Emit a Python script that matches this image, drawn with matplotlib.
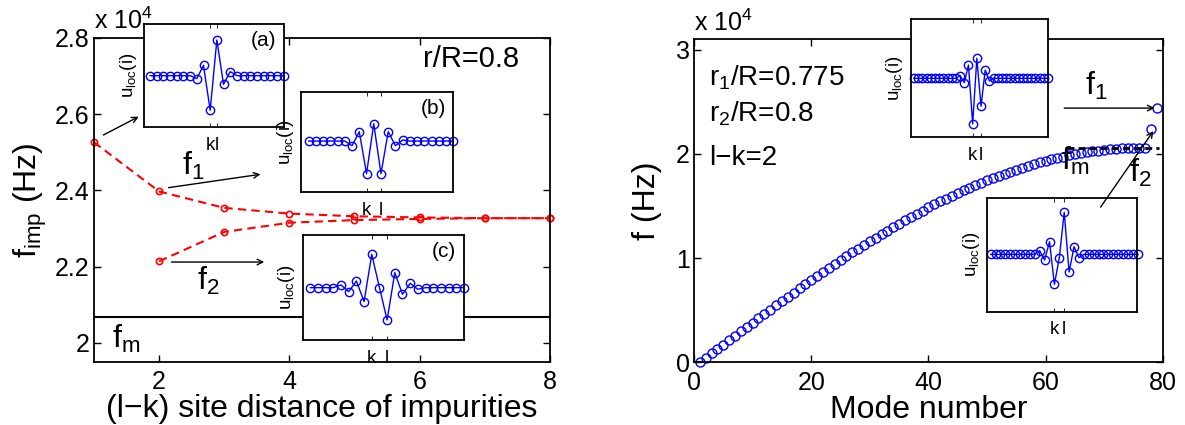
import numpy as np
import matplotlib
matplotlib.use('Agg')
import matplotlib.pyplot as plt
from matplotlib.patches import ConnectionPatch

plt.rcParams['font.family'] = ['Liberation Sans', 'DejaVu Sans']
plt.rcParams['mathtext.fontset'] = 'custom'
plt.rcParams['mathtext.rm'] = 'Liberation Sans'
plt.rcParams['mathtext.it'] = 'Liberation Sans'
plt.rcParams['mathtext.default'] = 'regular'

# ---- left panel: impurity frequencies (x 1e4 Hz) vs site distance
dist_f1 = [1, 2, 3, 4, 5, 6, 7, 8]
f1_imp = [2.526, 2.397, 2.354, 2.339, 2.332, 2.329, 2.327, 2.327]
dist_f2 = [2, 3, 4, 5, 6, 7, 8]
f2_imp = [2.214, 2.291, 2.315, 2.322, 2.325, 2.327, 2.327]
f_max = 2.068

# ---- right panel: spectrum (x 1e4 Hz) vs mode number
mode_f = [0.000, 0.043, 0.085, 0.128, 0.170, 0.213, 0.255, 0.297, 0.339, 0.381,
          0.423, 0.464, 0.506, 0.547, 0.588, 0.628, 0.669, 0.709, 0.749, 0.788,
          0.828, 0.866, 0.905, 0.943, 0.980, 1.018, 1.055, 1.091, 1.127, 1.162,
          1.197, 1.231, 1.265, 1.299, 1.331, 1.364, 1.395, 1.426, 1.457, 1.486,
          1.516, 1.544, 1.572, 1.599, 1.625, 1.651, 1.676, 1.700, 1.724, 1.746,
          1.768, 1.789, 1.810, 1.829, 1.848, 1.866, 1.883, 1.903, 1.919, 1.934,
          1.948, 1.962, 1.974, 1.986, 1.997, 2.007, 2.016, 2.025, 2.032, 2.039,
          2.044, 2.049, 2.053, 2.056, 2.058, 2.060, 2.060, 2.243, 2.440]
f_max_r = 2.058

# ---- mode shapes shown in the insets (arbitrary units)
u_a = [0, 0, 0, 0, 0, 0, 0, -9, 31, -104, 107, -26, 12, 0, 0, 0, 0, 0, 0, 0, 0]
u_b = [0, 0, 0, 0, 0, 0, -14, 28, -98, 52, -98, 28, -14, 3, 0, 0, 0, 0, 0, 0, 0]
u_c = [0, 0, 0, 0, 8, -12, 20, -42, 100, 0, -97, 45, -20, 13, -5, 0, 0, 0, 0, 0, 0]
u_r1 = [0] * 11 + [8, -13, 40, -137, 60, -84, 25, -8] + [0] * 14
u_r2 = [0] * 10 + [11, -17, 38, -90, -10, 126, -53, 23, -10] + [0] * 12

BLUE = '#0000ff'
TICK = 18
LAB = 23

fig = plt.figure(figsize=(11.85, 4.25), dpi=100)


def style_main(ax):
    ax.tick_params(direction='in', top=True, right=True, length=5, width=1,
                   labelsize=TICK)
    ax.tick_params(axis='x', pad=6)
    ax.tick_params(axis='y', pad=3)
    for s in ax.spines.values():
        s.set_linewidth(1.3)


def inset(rect, u, k, l, xlim, ylim, tag=None):
    ax = fig.add_axes(rect)
    idx = np.arange(1, len(u) + 1)
    ax.plot(idx, u, '-o', color=BLUE, mfc='none', ms=6, lw=1, mew=1,
            clip_on=False)
    ax.set_xlim(xlim)
    ax.set_ylim(ylim)
    ax.set_xticks([k, l])
    ax.set_xticklabels(['k', 'l'], fontsize=13.5)
    ax.set_yticks([])
    ax.tick_params(axis='x', direction='in', top=True, length=3, width=0.6,
                   pad=7)
    ax.set_ylabel('u$_{loc}$(i)', fontsize=13.5, labelpad=4)
    if tag:
        ax.text(0.95, 0.93, tag, transform=ax.transAxes, ha='right',
                va='top', fontsize=15)
    for s in ax.spines.values():
        s.set_linewidth(1.3)
    return ax


# ================= left panel =================
ax1 = fig.add_axes([0.0793, 0.1482, 0.3846, 0.7631])
ax1.axhline(f_max, color='k', lw=1.5)
ax1.plot(dist_f1, f1_imp, '--o', color='#ff0000', ms=4.5, mfc='none',
         lw=1.5, mew=1.2, dashes=(4, 2.5), clip_on=False)
ax1.plot(dist_f2, f2_imp, '--o', color='#ff0000', ms=4.5, mfc='none',
         lw=1.5, mew=1.2, dashes=(4, 2.5), clip_on=False)
ax1.set_xlim(1, 8)
ax1.set_ylim(1.95, 2.8)
ax1.set_xticks([2, 4, 6, 8])
ax1.set_yticks([2, 2.2, 2.4, 2.6, 2.8])
ax1.set_yticklabels(['2', '2.2', '2.4', '2.6', '2.8'])
style_main(ax1)
ax1.set_xlabel('(l\u2212k) site distance of impurities', fontsize=LAB,
               labelpad=0)
ax1.set_ylabel('f$_{imp}$ (Hz)', fontsize=LAB, labelpad=4)
ax1.text(0.0, 1.01, 'x 10$^4$', transform=ax1.transAxes, fontsize=TICK,
         ha='left', va='bottom')
ax1.text(6.06, 2.724, 'r/R=0.8', fontsize=21, ha='left', va='baseline')
ax1.text(2.35, 2.44, 'f$_1$', fontsize=LAB, ha='left', va='baseline')
ax1.text(2.58, 2.14, 'f$_2$', fontsize=LAB, ha='left', va='baseline')
ax1.text(1.28, 1.988, 'f$_m$', fontsize=LAB, ha='left', va='baseline')
arrow = dict(arrowstyle='->', color='k', lw=1, shrinkA=0, shrinkB=0)
ax1.annotate('', xy=(1.687, 2.593), xytext=(1.145, 2.545),
             arrowprops=arrow)
ax1.annotate('', xy=(3.558, 2.442), xytext=(2.146, 2.407),
             arrowprops=arrow)
ax1.annotate('', xy=(3.615, 2.212), xytext=(2.19, 2.212),
             arrowprops=arrow)

inset([0.1219, 0.7012, 0.1174, 0.2424], u_a, 10, 11, (0.15, 21),
      (-154, 155), '(a)')
inset([0.2544, 0.5482, 0.1281, 0.2360], u_b, 9, 11, (0, 21),
      (-153, 148), '(b)')
inset([0.2554, 0.2000, 0.1361, 0.2471], u_c, 9, 11, (0, 21),
      (-157, 158), '(c)')

# ================= right panel =================
ax2 = fig.add_axes([0.5857, 0.1475, 0.3955, 0.7600])
modes = np.arange(1, len(mode_f) + 1)
ax2.plot(modes, mode_f, 'o', color=BLUE, mfc='none', ms=6.5, mew=1,
         clip_on=False)
ax2.plot([63.6, 79.3], [f_max_r, f_max_r], color='k', lw=2,
         dashes=(2.5, 1.5))
ax2.set_xlim(0, 80)
ax2.set_ylim(0, 3.1)
ax2.set_xticks([0, 20, 40, 60, 80])
ax2.set_yticks([0, 1, 2, 3])
style_main(ax2)
ax2.set_xlabel('Mode number', fontsize=LAB, labelpad=0)
ax2.set_ylabel('f (Hz)', fontsize=LAB, labelpad=10)
ax2.text(0.0, 1.01, 'x 10$^4$', transform=ax2.transAxes, fontsize=TICK,
         ha='left', va='bottom')
ax2.text(2.5, 2.658, 'r$_1$/R=0.775', fontsize=20, ha='left', va='baseline')
ax2.text(2.5, 2.307, 'r$_2$/R=0.8', fontsize=20, ha='left', va='baseline')
ax2.text(2.5, 1.892, 'l\u2212k=2', fontsize=20, ha='left', va='baseline')
ax2.text(66.8, 2.563, 'f$_1$', fontsize=LAB, ha='left', va='baseline')
ax2.text(62.7, 1.844, 'f$_m$', fontsize=LAB, ha='left', va='baseline')
ax2.text(74.2, 1.732, 'f$_2$', fontsize=LAB, ha='left', va='baseline')
ax2.annotate('', xy=(78.6, 2.44), xytext=(63.2, 2.44), arrowprops=arrow)

inset([0.7688, 0.6769, 0.1156, 0.2776], u_r1, 15, 17, (0.28, 33),
      (-177, 177))
inset([0.8332, 0.2666, 0.1261, 0.2682], u_r2, 14, 16, (0.32, 30.8),
      (-172, 170))

cp = ConnectionPatch(xyA=(69.4, 1.49), coordsA=ax2.transData,
                     xyB=(78.4, 2.22), coordsB=ax2.transData,
                     arrowstyle='->', color='k', lw=1, shrinkA=0, shrinkB=0)
fig.add_artist(cp)

fig.savefig('out.png', dpi=100)
